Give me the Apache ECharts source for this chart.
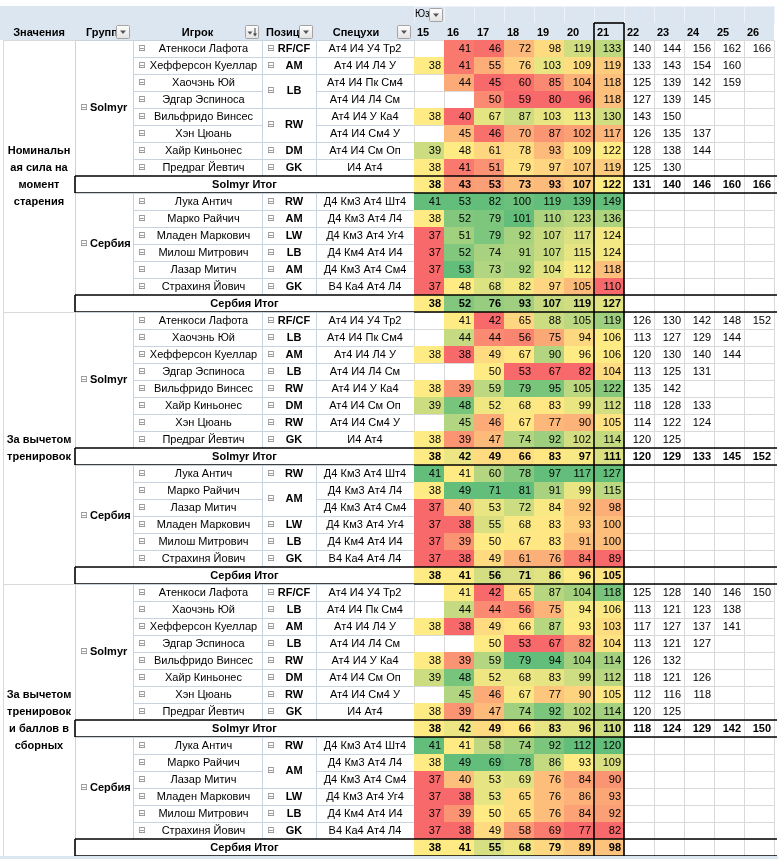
<!DOCTYPE html>
<html><head><meta charset="utf-8">
<script src="https://cdn.jsdelivr.net/npm/echarts@6/dist/echarts.min.js"></script>
<style>html,body{margin:0;padding:0;background:#fff}#c{width:778px;height:859px}</style>
</head><body><div id="c"></div>
<script>
// ---------------- DATA ----------------
const ages = ['15','16','17','18','19','20','21','22','23','24','25','26'];
const topFieldLabel = 'Юз';
const headerLabels = ['Значения','Групп','Игрок','Позиц','Спецухи'];
const sectionTitles = ['Номинальн\nая сила на\nмомент\nстарения', 'За вычетом\nтренировок', 'За вычетом\nтренировок\nи баллов в\nсборных'];
const groupNames = ['Solmyr', 'Сербия'];
const totalSuffix = ' Итог';

const solmyrPlayers = ['Атенкоси Лафота','Хефферсон Куеллар','Хаочэнь Юй','Эдгар Эспиноса','Вильфридо Винсес','Хэн Цюань','Хайр Киньонес','Предраг Йевтич'];
const solmyrPositions = ['RF/CF','AM','LB','LB','RW','RW','DM','GK'];
const solmyrSpecs = ['Ат4 И4 У4 Тр2','Ат4 И4 Л4 У','Ат4 И4 Пк См4','Ат4 И4 Л4 См','Ат4 И4 У Ка4','Ат4 И4 См4 У','Ат4 И4 См Оп','И4 Ат4'];
const serbiaPlayers = ['Лука Антич','Марко Райчич','Младен Маркович','Милош Митрович','Лазар Митич','Страхиня Йович'];
const serbiaPositions = ['RW','AM','LW','LB','AM','GK'];
const serbiaSpecs = ['Д4 Км3 Ат4 Шт4','Д4 Км3 Ат4 Л4','Д4 Км3 Ат4 Уг4','Д4 Км4 Ат4 И4','Д4 Км3 Ат4 См4','В4 Ка4 Ат4 Л4'];

// display order of players in each section
const solmyrOrder = [[0,1,2,3,4,5,6,7],[0,2,1,3,4,6,5,7],[0,2,1,3,4,6,5,7]];
const serbiaOrder = [[0,1,2,3,4,5],[0,1,4,2,3,5],[0,1,4,2,3,5]];

// Section 1: номинальная сила (rows in display order)
const nominalSolmyr = [
 [null,41,46,72,98,119,133,140,144,156,162,166],
 [38,41,55,76,103,109,119,133,143,154,160,null],
 [null,44,45,60,85,104,118,125,139,142,159,null],
 [null,null,50,59,80,96,118,127,139,145,null,null],
 [38,40,67,87,103,113,130,143,150,null,null,null],
 [null,45,46,70,87,102,117,126,135,137,null,null],
 [39,48,61,78,93,109,122,128,138,144,null,null],
 [38,41,51,79,97,107,119,125,130,null,null,null]];
const nominalSolmyrTotal = [38,43,53,73,93,107,122,131,140,146,160,166];
const nominalSerbia = [
 [41,53,82,100,119,139,149],
 [38,52,79,101,110,123,136],
 [37,51,79,92,107,117,124],
 [37,52,74,91,107,115,124],
 [37,53,73,92,104,112,118],
 [37,48,68,82,97,105,110]];
const nominalSerbiaTotal = [38,52,76,93,107,119,127];

// Section 2: за вычетом тренировок
const noTrainSolmyr = [
 [null,41,42,65,88,105,119,126,130,142,148,152],
 [null,44,44,56,75,94,106,113,127,129,144,null],
 [38,38,49,67,90,96,106,120,130,140,144,null],
 [null,null,50,53,67,82,104,113,125,131,null,null],
 [38,39,59,79,95,105,122,135,142,null,null,null],
 [39,48,52,68,83,99,112,118,128,133,null,null],
 [null,45,46,67,77,90,105,114,122,124,null,null],
 [38,39,47,74,92,102,114,120,125,null,null,null]];
const noTrainSolmyrTotal = [38,42,49,66,83,97,111,120,129,133,145,152];
const noTrainSerbia = [
 [41,41,60,78,97,117,127],
 [38,49,71,81,91,99,115],
 [37,40,53,72,84,92,98],
 [37,38,55,68,83,93,100],
 [37,39,50,67,83,91,100],
 [37,38,49,61,76,84,89]];
const noTrainSerbiaTotal = [38,41,56,71,86,96,105];

// Section 3: за вычетом тренировок и баллов в сборных
const noTrainNatSolmyr = [
 [null,41,42,65,87,104,118,125,128,140,146,150],
 [null,44,44,56,75,94,106,113,121,123,138,null],
 [38,38,49,66,87,93,103,117,127,137,141,null],
 [null,null,50,53,67,82,104,113,121,127,null,null],
 [38,39,59,79,94,104,114,126,132,null,null,null],
 [39,48,52,68,83,99,112,118,121,126,null,null],
 [null,45,46,67,77,90,105,112,116,118,null,null],
 [38,39,47,74,92,102,114,120,125,null,null,null]];
const noTrainNatSolmyrTotal = [38,42,49,66,83,96,110,118,124,129,142,150];
const noTrainNatSerbia = [
 [41,41,58,74,92,112,120],
 [38,49,69,78,86,93,109],
 [37,40,53,69,76,84,90],
 [37,38,53,65,76,86,93],
 [37,39,50,65,76,84,92],
 [37,38,49,58,69,77,82]];
const noTrainNatSerbiaTotal = [38,41,55,68,79,89,98];

const colorScaleColumns = 7; // ages 15..21 carry the colour scale

// ---------------- LAYOUT / STYLE ----------------
const FONT = "'Liberation Sans', Arial, sans-serif";
const HDR_BG = '#DCE6F1';
const CELL_BORDER = '#C9D3DF';
const GRID_LINE = '#D9D9D9';
const RED = [248,105,107], YEL = [255,235,132], GRN = [99,190,123];
const TEXT_EDGES = [3, 75, 133, 262, 316, 414]; // column edges of text part (axis units)
const ROWS = 50; // 2 header rows + 48 data rows
const rowIds = Array.from({length: ROWS}, (_, i) => 'r' + i);

const sections = [
  {sol: nominalSolmyr, solT: nominalSolmyrTotal, ser: nominalSerbia, serT: nominalSerbiaTotal},
  {sol: noTrainSolmyr, solT: noTrainSolmyrTotal, ser: noTrainSerbia, serT: noTrainSerbiaTotal},
  {sol: noTrainNatSolmyr, solT: noTrainNatSolmyrTotal, ser: noTrainNatSerbia, serT: noTrainNatSerbiaTotal}
];

function median(arr) {
  const s = arr.slice().sort((a, b) => a - b);
  const pos = (s.length - 1) * 0.5, lo = Math.floor(pos), hi = Math.ceil(pos);
  return s[lo] + (s[hi] - s[lo]) * (pos - lo);
}
function mix(a, b, t) {
  return 'rgb(' + a.map((v, i) => Math.round(v + (b[i] - v) * t)).join(',') + ')';
}
function scaleColor(v, mn, md, mx) {
  if (v <= md) return mix(RED, YEL, md === mn ? 1 : (v - mn) / (md - mn));
  return mix(YEL, GRN, mx === md ? 1 : (v - md) / (mx - md));
}

// ---------------- TEXT PART ----------------
const textData = [], textMeta = [];
function addText(x0, x1, r0, r1, meta) { textData.push([x0, x1, r0, r1]); textMeta.push(meta); }
const E = TEXT_EDGES;
addText(0, E[5], 0, 1, {kind: 'hdrbg'});
addText(E[0], E[1], 1, 1, {kind: 'hdr', text: headerLabels[0], mode: 'center'});
addText(E[1], E[2], 1, 1, {kind: 'hdr', text: headerLabels[1], mode: 'left', pad: 11, btn: 'filter'});
addText(E[2], E[3], 1, 1, {kind: 'hdr', text: headerLabels[2], mode: 'center', btn: 'sort'});
addText(E[3], E[4], 1, 1, {kind: 'hdr', text: headerLabels[3], mode: 'left', pad: 4, btn: 'filter'});
addText(E[4], E[5], 1, 1, {kind: 'hdr', text: headerLabels[4], mode: 'centerBtn', btn: 'filter'});

// ---------------- NUMERIC PART ----------------
const numCells = [], numColored = [], numLines = [];
for (let c = 0; c < ages.length; c++) {
  numCells.push({d: [c, c, 0, 0], m: {kind: 'top', text: c === 0 ? topFieldLabel : ''}});
  numCells.push({d: [c, c, 1, 1], m: {kind: 'hdr', text: ages[c]}});
}

sections.forEach((sec, s) => {
  const base = 2 + s * 16;
  addText(E[0], E[1], base, base + 15, {kind: 'title', text: sectionTitles[s]});
  const groups = [
    {name: groupNames[0], order: solmyrOrder[s], players: solmyrPlayers, pos: solmyrPositions, specs: solmyrSpecs, vals: sec.sol, tot: sec.solT},
    {name: groupNames[1], order: serbiaOrder[s], players: serbiaPlayers, pos: serbiaPositions, specs: serbiaSpecs, vals: sec.ser, tot: sec.serT}
  ];
  // colour scale per column for this section
  const allRows = [];
  groups.forEach(g => { g.vals.forEach(v => allRows.push(v)); allRows.push(g.tot); });
  const scales = [];
  for (let c = 0; c < colorScaleColumns; c++) {
    const col = allRows.map(r => r[c]).filter(v => v != null);
    scales.push([Math.min(...col), median(col), Math.max(...col)]);
  }
  let r = base;
  groups.forEach(g => {
    const n = g.order.length;
    addText(E[1], E[2], r, r + n - 1, {kind: 'group', text: g.name});
    for (let i = 0; i < n; i++) {
      const p = g.order[i];
      addText(E[2], E[3], r + i, r + i, {kind: 'name', text: g.players[p]});
      addText(E[4], E[5], r + i, r + i, {kind: 'spec', text: g.specs[p]});
    }
    let i = 0;
    while (i < n) {
      let j = i;
      while (j + 1 < n && g.pos[g.order[j + 1]] === g.pos[g.order[i]]) j++;
      addText(E[3], E[4], r + i, r + j, {kind: 'pos', text: g.pos[g.order[i]]});
      i = j + 1;
    }
    const rowsVals = g.vals.map(v => ({v, total: false})).concat([{v: g.tot, total: true}]);
    rowsVals.forEach((rv, k) => {
      const rr = r + k;
      for (let c = 0; c < ages.length; c++) {
        const v = rv.v[c] == null ? null : rv.v[c];
        const colored = v != null && c < colorScaleColumns;
        const item = {d: [c, c, rr, rr], m: {kind: 'cell', text: v == null ? '' : String(v), bold: rv.total,
          color: colored ? scaleColor(v, scales[c][0], scales[c][1], scales[c][2]) : null}};
        (colored ? numColored : numCells).push(item);
      }
      if (rv.total) numLines.push({d: [0, ages.length - 1, rr, rr], m: {kind: 'tline'}});
    });
    r += n;
    addText(E[1], E[5], r, r, {kind: 'total', text: g.name + totalSuffix});
    r++;
  });
});
numLines.push({d: [6, 6, 1, ROWS - 1], m: {kind: 'box'}});
const numAll = numCells.concat(numColored, numLines);
const numData = numAll.map(o => o.d), numMeta = numAll.map(o => o.m);

// ---------------- RENDER HELPERS ----------------
function txt(text, x, y, opt) {
  return {type: 'text', silent: true, style: Object.assign({text, x, y, fill: '#000', font: '11px ' + FONT, align: 'left', verticalAlign: 'middle'}, opt || {})};
}
function icon(x, y) { return txt('⊟', x, y, {font: "9px 'DejaVu Sans'", fill: '#7f7f7f'}); }
function dropBtn(xr, yc, sort) {
  const bx = Math.round(xr - 15) + 0.5, by = Math.round(yc - 7) + 0.5;
  const ch = [{type: 'rect', shape: {x: bx, y: by, width: 13, height: 13, r: 1},
    style: {fill: {type: 'linear', x: 0, y: 0, x2: 0, y2: 1, colorStops: [{offset: 0, color: '#ffffff'}, {offset: 1, color: '#e2e2e2'}]}, stroke: '#a3a3a3', lineWidth: 1}}];
  if (sort) {
    ch.push({type: 'polygon', shape: {points: [[bx + 2, by + 6], [bx + 7, by + 6], [bx + 4.5, by + 9]]}, style: {fill: '#555'}});
    ch.push({type: 'line', shape: {x1: bx + 9.5, y1: by + 2.5, x2: bx + 9.5, y2: by + 9}, style: {stroke: '#444', lineWidth: 1}});
    ch.push({type: 'polygon', shape: {points: [[bx + 7.5, by + 8], [bx + 11.5, by + 8], [bx + 9.5, by + 11]]}, style: {fill: '#444'}});
  } else {
    ch.push({type: 'polygon', shape: {points: [[bx + 3.5, by + 5], [bx + 9.5, by + 5], [bx + 6.5, by + 8.5]]}, style: {fill: '#555'}});
  }
  return ch;
}
function hline(x1, x2, y, color, lw) { return {type: 'line', shape: {x1, y1: y, x2, y2: y}, style: {stroke: color, lineWidth: lw}}; }
function vline(x, y1, y2, color, lw) { return {type: 'line', shape: {x1: x, y1, x2: x, y2}, style: {stroke: color, lineWidth: lw}}; }

function renderText(params, api) {
  const m = textMeta[params.dataIndex];
  const a = api.coord([api.value(0), api.value(2)]);
  const b = api.coord([api.value(1), api.value(3)]);
  const bh = api.size([0, 1])[1];
  const x = a[0], y = a[1] - bh / 2, w = b[0] - a[0], h = b[1] - a[1] + bh;
  const yc = y + h / 2;
  const ch = [];
  const bold = 'bold 11px ' + FONT;
  const cellRect = (stroke) => ({type: 'rect', shape: {x: Math.round(x) + 0.5, y: Math.round(y) + 0.5, width: Math.round(w), height: Math.round(h)}, style: {fill: '#fff', stroke: stroke, lineWidth: 1}});
  switch (m.kind) {
    case 'hdrbg':
      ch.push({type: 'rect', shape: {x, y, width: w, height: h}, style: {fill: HDR_BG}});
      break;
    case 'hdr': {
      const btnW = m.btn ? 18 : 0;
      let tx = x + w / 2, al = 'center';
      if (m.mode === 'left') { tx = x + m.pad; al = 'left'; }
      if (m.mode === 'centerBtn') tx = x + (w - btnW) / 2;
      ch.push(txt(m.text, tx, yc + 1, {font: bold, align: al}));
      if (m.btn) ch.push(...dropBtn(x + w - 2, yc, m.btn === 'sort'));
      break;
    }
    case 'title':
      ch.push(cellRect(GRID_LINE));
      ch.push(txt(m.text, x + w / 2, yc, {font: bold, align: 'center', lineHeight: 17}));
      break;
    case 'group':
      ch.push(cellRect(CELL_BORDER));
      ch.push(icon(x + 5, yc));
      ch.push(txt(m.text, x + 15, yc, {font: bold}));
      break;
    case 'name':
      ch.push(cellRect(CELL_BORDER));
      ch.push(icon(x + 5, yc));
      ch.push(txt(m.text, x + 12 + (w - 12) / 2, yc, {align: 'center'}));
      break;
    case 'pos':
      ch.push(cellRect(CELL_BORDER));
      ch.push(icon(x + 5, yc));
      ch.push(txt(m.text, x + 10 + (w - 10) / 2, yc, {font: bold, align: 'center'}));
      break;
    case 'spec':
      ch.push(cellRect(CELL_BORDER));
      ch.push(txt(m.text, x + w / 2, yc, {align: 'center'}));
      break;
    case 'total':
      ch.push({type: 'rect', shape: {x, y, width: w, height: h}, style: {fill: '#fff'}});
      ch.push(txt(m.text, x + w / 2, yc, {font: bold, align: 'center'}));
      ch.push(hline(x, x + w, Math.round(y), '#000', 1.6));
      ch.push(hline(x, x + w, Math.round(y + h), '#000', 1.6));
      ch.push(vline(Math.round(x), Math.round(y), Math.round(y + h), '#000', 1.6));
      break;
  }
  return {type: 'group', children: ch};
}

function renderNum(params, api) {
  const m = numMeta[params.dataIndex];
  const a = api.coord([api.value(0), api.value(2)]);
  const b = api.coord([api.value(1), api.value(3)]);
  const sz = api.size([1, 1]);
  const x = a[0] - sz[0] / 2, y = a[1] - sz[1] / 2, w = b[0] - a[0] + sz[0], h = b[1] - a[1] + sz[1];
  const yc = y + h / 2;
  const ch = [];
  const rx = Math.round(x), ry = Math.round(y), rw = Math.round(w), rh = Math.round(h);
  switch (m.kind) {
    case 'top':
      ch.push({type: 'rect', shape: {x: rx + 0.5, y: ry + 0.5, width: rw, height: rh}, style: {fill: HDR_BG, stroke: '#eef3f9', lineWidth: 1}});
      if (m.text) {
        ch.push(txt(m.text, x + 1, yc, {font: '10px ' + FONT}));
        ch.push(...dropBtn(x + 30, yc, false));
      }
      break;
    case 'hdr':
      ch.push({type: 'rect', shape: {x, y, width: w, height: h}, style: {fill: HDR_BG}});
      ch.push(txt(m.text, x + 3, yc + 1, {font: 'bold 11px ' + FONT}));
      break;
    case 'cell':
      if (m.color) ch.push({type: 'rect', shape: {x: rx, y: ry, width: rw, height: rh}, style: {fill: m.color}});
      else ch.push({type: 'rect', shape: {x: rx + 0.5, y: ry + 0.5, width: rw, height: rh}, style: {fill: '#fff', stroke: GRID_LINE, lineWidth: 1}});
      if (m.text) ch.push(txt(m.text, x + w - 3, yc, {align: 'right', font: (m.bold ? 'bold ' : '') + '11px ' + FONT}));
      break;
    case 'tline':
      ch.push(hline(x, x + w + 3, ry, '#000', 1.6));
      ch.push(hline(x, x + w + 3, ry + rh, '#000', 1.6));
      break;
    case 'box':
      ch.push(vline(rx, ry, ry + rh, '#000', 1.6));
      ch.push(vline(rx + rw, ry, ry + rh, '#000', 1.6));
      ch.push(hline(rx, rx + rw, ry, '#000', 1.6));
      break;
  }
  return {type: 'group', children: ch};
}

// ---------------- CHART ----------------
const chart = echarts.init(document.getElementById('c'), null, {renderer: 'canvas'});
const GRID_TOP = 6, GRID_H = ROWS * 17;
chart.setOption({
  animation: false,
  backgroundColor: '#fff',
  grid: [
    {left: 0, top: GRID_TOP, width: 414, height: GRID_H},
    {left: 414, top: GRID_TOP, width: 360, height: GRID_H}
  ],
  xAxis: [
    {type: 'value', gridIndex: 0, min: 0, max: 414, show: false},
    {type: 'category', gridIndex: 1, data: ages, show: false}
  ],
  yAxis: [
    {type: 'category', gridIndex: 0, data: rowIds, inverse: true, show: false},
    {type: 'category', gridIndex: 1, data: rowIds, inverse: true, show: false}
  ],
  graphic: [
    {type: 'rect', left: 0, bottom: 0, shape: {width: 778, height: 3}, style: {fill: HDR_BG}, z: 100}
  ],
  series: [
    {type: 'custom', xAxisIndex: 0, yAxisIndex: 0, renderItem: renderText, data: textData,
     encode: {x: [0, 1], y: [2, 3]}, silent: true},
    {type: 'custom', xAxisIndex: 1, yAxisIndex: 1, renderItem: renderNum, data: numData,
     encode: {x: [0, 1], y: [2, 3]}, silent: true, z: 3}
  ]
});
</script>
</body></html>
